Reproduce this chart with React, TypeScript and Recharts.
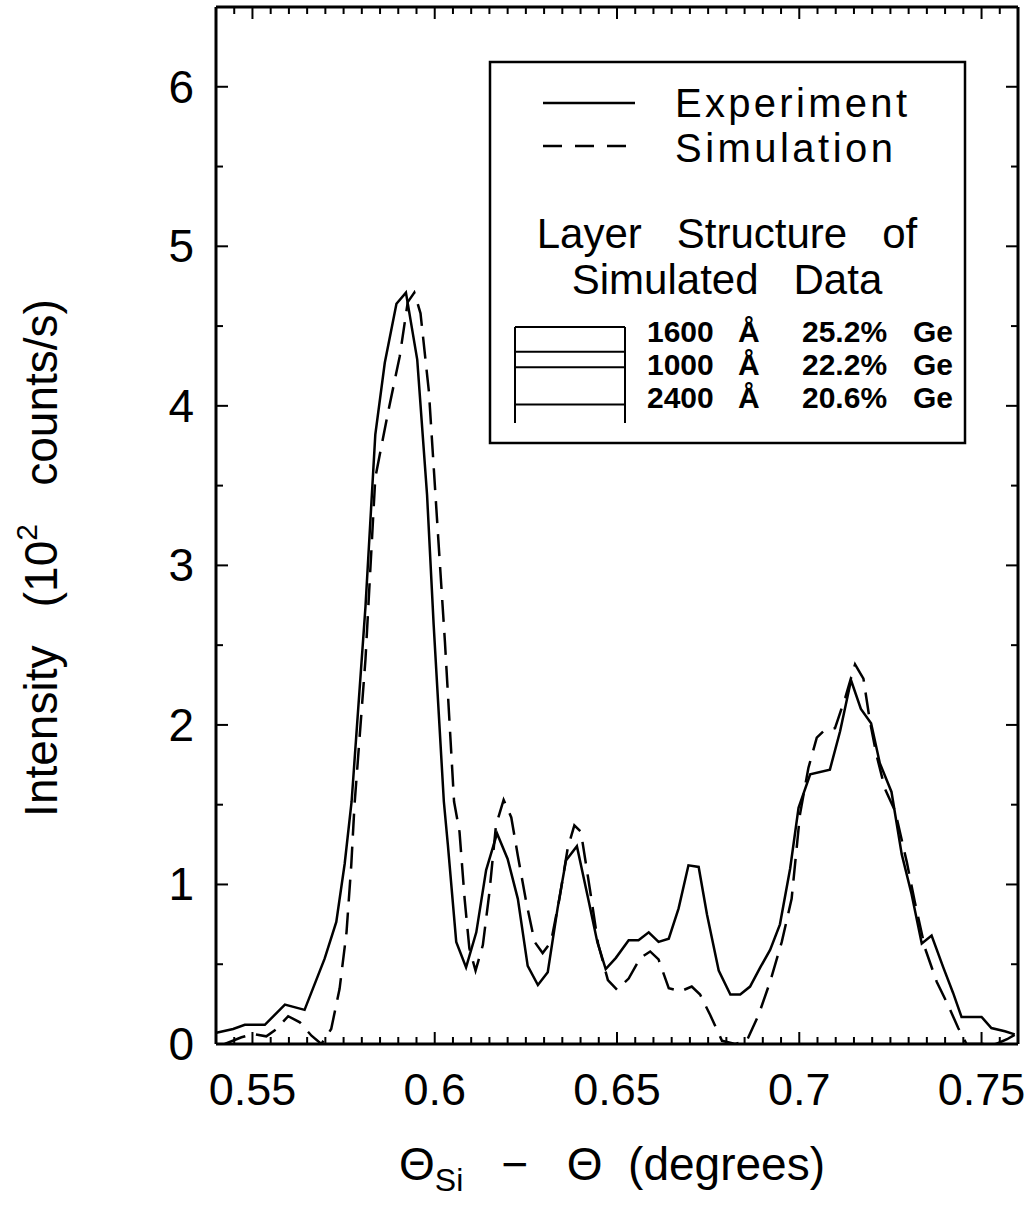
import React from 'react';
import { LineChart, Line, XAxis, YAxis } from 'recharts';

// experiment (solid)
const experimentX = [
  0.5401, 0.5447, 0.5479, 0.5534, 0.5589, 0.5643, 0.5698, 0.573, 0.5753, 0.5772,
  0.581, 0.5837, 0.5863, 0.5895, 0.5921, 0.5952, 0.5979, 0.5997, 0.6025, 0.6036,
  0.6059, 0.6086, 0.6114, 0.6141, 0.6171, 0.62, 0.6228, 0.6255, 0.6283, 0.631,
  0.6337, 0.636, 0.639, 0.6421, 0.6446, 0.6469, 0.6497, 0.6532, 0.6559, 0.6587,
  0.6614, 0.6642, 0.6669, 0.6696, 0.6724, 0.6747, 0.6779, 0.6811, 0.6838, 0.6865,
  0.6893, 0.692, 0.6947, 0.6975, 0.6998, 0.703, 0.7084, 0.7112, 0.7142, 0.7169,
  0.7197, 0.7221, 0.7253, 0.7281, 0.7308, 0.7336, 0.7363, 0.7395, 0.7422, 0.7445,
  0.75, 0.7527, 0.7564, 0.7591,
];
const experimentY = [
  0.07, 0.094, 0.12, 0.12, 0.247, 0.214, 0.535, 0.765, 1.13, 1.52,
  2.74, 3.82, 4.27, 4.64, 4.71, 4.29, 3.44, 2.63, 1.52, 1.25,
  0.64, 0.48, 0.7, 1.09, 1.32, 1.16, 0.91, 0.49, 0.37, 0.45,
  0.85, 1.15, 1.24, 0.91, 0.64, 0.47, 0.54, 0.65, 0.65, 0.7,
  0.64, 0.66, 0.85, 1.12, 1.11, 0.81, 0.46, 0.31, 0.31, 0.36,
  0.48, 0.59, 0.75, 1.1, 1.48, 1.69, 1.72, 1.96, 2.28, 2.1,
  2.01, 1.76, 1.58, 1.19, 0.94, 0.63, 0.68, 0.48, 0.32, 0.17,
  0.17, 0.1, 0.08, 0.06,
];

// simulation (dashed)
const simulationX = [
  0.5424, 0.547, 0.5502, 0.5538, 0.5566, 0.5598, 0.563, 0.5662, 0.5689, 0.5716,
  0.5739, 0.5758, 0.5771, 0.578, 0.581, 0.5837, 0.5872, 0.5904, 0.5926, 0.5944,
  0.5961, 0.5984, 0.6006, 0.6028, 0.6053, 0.6068, 0.6082, 0.6095, 0.6112, 0.6132,
  0.615, 0.6168, 0.6189, 0.621, 0.6228, 0.6251, 0.6274, 0.6296, 0.6319, 0.6342,
  0.6365, 0.6383, 0.6401, 0.6427, 0.6448, 0.6475, 0.65, 0.6532, 0.6564, 0.6591,
  0.6614, 0.6642, 0.6674, 0.6705, 0.6728, 0.6756, 0.6788, 0.6824, 0.6856, 0.6888,
  0.692, 0.6952, 0.6979, 0.7002, 0.7025, 0.7048, 0.7066, 0.7098, 0.7126, 0.7153,
  0.7176, 0.7194, 0.7212, 0.7235, 0.7263, 0.7295, 0.7317, 0.7345, 0.7377, 0.7409,
  0.7436, 0.7459, 0.75, 0.754, 0.757, 0.76,
];
const simulationY = [
  0.0, 0.042, 0.063, 0.048, 0.094, 0.174, 0.136, 0.052, 0.0, 0.094,
  0.346, 0.7, 1.12, 1.5, 2.41, 3.55, 3.96, 4.31, 4.65, 4.71,
  4.58, 4.09, 3.3, 2.52, 1.52, 1.33, 0.91, 0.6, 0.46, 0.62,
  0.95, 1.37, 1.53, 1.42, 1.18, 0.89, 0.64, 0.57, 0.64, 0.91,
  1.23, 1.37, 1.33, 0.95, 0.63, 0.4, 0.34, 0.41, 0.54, 0.58,
  0.53, 0.35, 0.33, 0.36, 0.31, 0.18, 0.02, 0.0, 0.02, 0.18,
  0.39, 0.64, 0.91, 1.44, 1.73, 1.92, 1.96, 1.98, 2.17, 2.38,
  2.29, 2.02, 1.81, 1.6, 1.46, 1.14, 0.89, 0.6, 0.39, 0.24,
  0.1, 0.0, 0.0, 0.0, 0.03, 0.07,
];

const xTicks = [
  0.545, 0.55, 0.555, 0.56, 0.565, 0.57, 0.575, 0.58, 0.585, 0.59, 0.595,
  0.6, 0.605, 0.61, 0.615, 0.62, 0.625, 0.63, 0.635, 0.64, 0.645,
  0.65, 0.655, 0.66, 0.665, 0.67, 0.675, 0.68, 0.685, 0.69, 0.695,
  0.7, 0.705, 0.71, 0.715, 0.72, 0.725, 0.73, 0.735, 0.74, 0.745, 0.75, 0.755,
];
const yTicks = [0, 0.5, 1, 1.5, 2, 2.5, 3, 3.5, 4, 4.5, 5, 5.5, 6];

const layerThickness = [1600, 1000, 2400];
const layerGe = ['25.2%', '22.2%', '20.6%'];

const experiment = experimentX.map((x, i) => ({ x, y: experimentY[i] }));
const simulation = simulationX.map((x, i) => ({ x, y: simulationY[i] }));

const FONT = '"Liberation Sans", Arial, Helvetica, sans-serif';
const isMajor = (v: number, step: number) => Math.abs(v / step - Math.round(v / step)) < 1e-6;
const label = (v: number) => String(+v.toFixed(2));

const BottomTick = (props: any) => {
  const { x, y, payload } = props;
  const major = isMajor(payload.value, 0.05);
  return (
    <g>
      <line x1={x} x2={x} y1={y} y2={y - (major ? 12 : 7)} stroke="#000" strokeWidth={2} />
      {major && (
        <text x={x} y={y + 61} textAnchor="middle" fontSize={45} fontFamily={FONT} fill="#000">
          {label(payload.value)}
        </text>
      )}
    </g>
  );
};

const TopTick = (props: any) => {
  const { x, y, payload } = props;
  const major = isMajor(payload.value, 0.05);
  return <line x1={x} x2={x} y1={y} y2={y + (major ? 12 : 7)} stroke="#000" strokeWidth={2} />;
};

const LeftTick = (props: any) => {
  const { x, y, payload } = props;
  const major = isMajor(payload.value, 1);
  return (
    <g>
      <line x1={x} x2={x + (major ? 12 : 7)} y1={y} y2={y} stroke="#000" strokeWidth={2} />
      {major && (
        <text x={x - 22} y={y + 16} textAnchor="end" fontSize={46} fontFamily={FONT} fill="#000">
          {label(payload.value)}
        </text>
      )}
    </g>
  );
};

const RightTick = (props: any) => {
  const { x, y, payload } = props;
  const major = isMajor(payload.value, 1);
  return <line x1={x} x2={x - (major ? 12 : 7)} y1={y} y2={y} stroke="#000" strokeWidth={2} />;
};

const axisLine = { stroke: '#000', strokeWidth: 3 };

const Overlay = () => {
  const pxPerA = 0.0155;
  const stackTop = 327;
  const bounds = layerThickness.reduce<number[]>(
    (acc, t) => [...acc, acc[acc.length - 1] + t * pxPerA],
    [stackTop]
  );
  const rowBase = [342, 375, 408];
  return (
    <svg
      width={1036}
      height={1220}
      style={{ position: 'absolute', left: 0, top: 0, pointerEvents: 'none' }}
      fontFamily={FONT}
    >
      {/* legend box */}
      <rect x={490} y={62} width={475} height={381} fill="none" stroke="#000" strokeWidth={2.5} />
      <line x1={543} x2={635} y1={103} y2={103} stroke="#000" strokeWidth={2.5} />
      <line x1={543} x2={627} y1={146} y2={146} stroke="#000" strokeWidth={2.5} strokeDasharray="19 13" />
      <text x={675} y={117} fontSize={40} textLength={232} lengthAdjust="spacing">Experiment</text>
      <text x={675} y={162} fontSize={40} textLength={218} lengthAdjust="spacing">Simulation</text>
      <text x={727} y={248} fontSize={42} textAnchor="middle" style={{ whiteSpace: 'pre' }}>
        {'Layer   Structure   of'}
      </text>
      <text x={727} y={294} fontSize={42} textAnchor="middle" style={{ whiteSpace: 'pre' }}>
        {'Simulated   Data'}
      </text>

      {/* layer stack */}
      {bounds.map((b, i) => (
        <line key={i} x1={515} x2={625} y1={b} y2={b} stroke="#000" strokeWidth={2} />
      ))}
      <line x1={515} x2={515} y1={stackTop} y2={423} stroke="#000" strokeWidth={2} />
      <line x1={625} x2={625} y1={stackTop} y2={423} stroke="#000" strokeWidth={2} />
      {layerThickness.map((t, i) => (
        <g key={t + '-' + i} fontSize={30} fontWeight="bold">
          <text x={647} y={rowBase[i]}>{t}</text>
          <text x={738} y={rowBase[i]}>Å</text>
          <text x={802} y={rowBase[i]}>{layerGe[i]}</text>
          <text x={913} y={rowBase[i]}>Ge</text>
        </g>
      ))}

      {/* axis titles */}
      <text
        x={57}
        y={558}
        fontSize={46}
        textAnchor="middle"
        transform="rotate(-90 57 558)"
        style={{ whiteSpace: 'pre' }}
      >
        {'Intensity   (10'}
        <tspan fontSize={30} dy={-20}>2</tspan>
        <tspan dy={20}>{'   counts/s)'}</tspan>
      </text>
      <text x={612} y={1180} fontSize={46} textAnchor="middle" style={{ whiteSpace: 'pre' }}>
        {'Θ'}
        <tspan fontSize={32} dy={11}>Si</tspan>
        <tspan dy={-11}>{'   −   Θ  (degrees)'}</tspan>
      </text>
    </svg>
  );
};

export default function App() {
  return (
    <div style={{ position: 'absolute', left: 0, top: 0, width: 1036, height: 1220, background: '#fff' }}>
      <LineChart width={1036} height={1220} margin={{ top: 2, right: 8, bottom: 116, left: 156 }}>
        <XAxis
          dataKey="x"
          type="number"
          domain={[0.54, 0.76]}
          allowDataOverflow
          ticks={xTicks}
          interval={0}
          height={60}
          tickSize={0}
          tickMargin={0}
          tick={BottomTick}
          axisLine={axisLine}
          tickLine={false}
        />
        <XAxis
          xAxisId="top"
          orientation="top"
          dataKey="x"
          type="number"
          domain={[0.54, 0.76]}
          allowDataOverflow
          ticks={xTicks}
          interval={0}
          height={5}
          tickSize={0}
          tickMargin={0}
          tick={TopTick}
          axisLine={axisLine}
          tickLine={false}
        />
        <YAxis
          type="number"
          domain={[0, 6.5]}
          allowDataOverflow
          ticks={yTicks}
          interval={0}
          width={60}
          tickSize={0}
          tickMargin={0}
          tick={LeftTick}
          axisLine={axisLine}
          tickLine={false}
        />
        <YAxis
          yAxisId="right"
          orientation="right"
          type="number"
          domain={[0, 6.5]}
          allowDataOverflow
          ticks={yTicks}
          interval={0}
          width={10}
          tickSize={0}
          tickMargin={0}
          tick={RightTick}
          axisLine={axisLine}
          tickLine={false}
        />
        <Line
          data={experiment}
          dataKey="y"
          type="linear"
          stroke="#000"
          strokeWidth={2.5}
          dot={false}
          isAnimationActive={false}
        />
        <Line
          data={simulation}
          dataKey="y"
          type="linear"
          stroke="#000"
          strokeWidth={2.5}
          strokeDasharray="22 11"
          dot={false}
          isAnimationActive={false}
        />
      </LineChart>
      <Overlay />
    </div>
  );
}
